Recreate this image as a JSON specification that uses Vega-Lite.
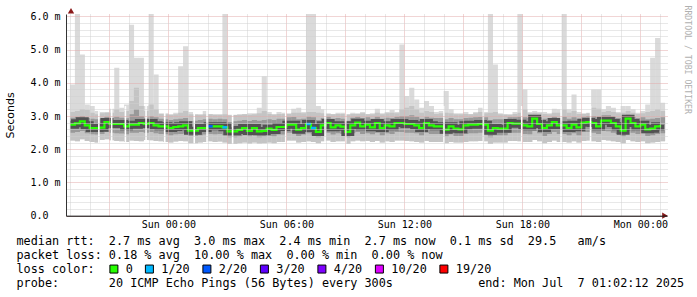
{
  "$schema": "https://vega.github.io/schema/vega-lite/v6.json",
  "width": 601,
  "height": 201.7,
  "autosize": {"type": "none"},
  "padding": {"left": 66, "top": 14, "right": 30, "bottom": 81.3},
  "background": "white",
  "config": {"view": {"stroke": null}, "axis": {"labelOverlap": false, "labelFlush": false}},
  "resolve": {"axis": {"y": "independent"}},
  "datasets": {
    "smoke": [
      {"t":"2025-07-05T19:00Z","lo":2.26,"q1":2.50,"md":2.74,"q3":2.95,"hi":3.12,"mx":3.95,"ls":"0"},
      {"t":"2025-07-05T19:15Z","lo":2.24,"q1":2.52,"md":2.78,"q3":2.98,"hi":3.15,"mx":6.1,"ls":"0"},
      {"t":"2025-07-05T19:30Z","lo":2.30,"q1":2.55,"md":2.84,"q3":3.00,"hi":3.20,"mx":4.85,"ls":"0"},
      {"t":"2025-07-05T19:45Z","lo":2.25,"q1":2.48,"md":2.72,"q3":2.94,"hi":3.18,"mx":3.35,"ls":"0"},
      {"t":"2025-07-05T20:00Z","lo":2.22,"q1":2.45,"md":2.64,"q3":2.92,"hi":3.10,"mx":3.30,"ls":"0"},
      {"t":"2025-07-05T20:15Z","lo":2.20,"q1":2.44,"md":2.64,"q3":2.90,"hi":3.05,"mx":3.15,"ls":"0"},
      {"t":"2025-07-05T20:30Z","lo":2.28,"q1":2.46,"md":2.65,"q3":2.92,"hi":3.08,"mx":3.12,"ls":"0"},
      {"t":"2025-07-05T20:45Z","lo":2.30,"q1":2.52,"md":2.82,"q3":2.98,"hi":3.10,"mx":3.12,"ls":"0"},
      {"t":"2025-07-05T21:00Z","lo":2.27,"q1":2.50,"md":2.76,"q3":2.95,"hi":3.10,"mx":3.22,"ls":"0"},
      {"t":"2025-07-05T21:15Z","lo":2.25,"q1":2.48,"md":2.76,"q3":2.98,"hi":3.20,"mx":4.45,"ls":"0"},
      {"t":"2025-07-05T21:30Z","lo":2.24,"q1":2.47,"md":2.76,"q3":2.95,"hi":3.12,"mx":3.25,"ls":"0"},
      {"t":"2025-07-05T21:45Z","lo":2.22,"q1":2.45,"md":2.69,"q3":2.93,"hi":3.15,"mx":3.35,"ls":"0"},
      {"t":"2025-07-05T22:00Z","lo":2.26,"q1":2.50,"md":2.74,"q3":3.05,"hi":3.45,"mx":5.75,"ls":"0"},
      {"t":"2025-07-05T22:15Z","lo":2.25,"q1":2.50,"md":2.74,"q3":3.20,"hi":3.85,"mx":4.75,"ls":"0"},
      {"t":"2025-07-05T22:30Z","lo":2.24,"q1":2.52,"md":2.79,"q3":3.00,"hi":3.30,"mx":4.75,"ls":"0"},
      {"t":"2025-07-05T22:45Z","lo":2.28,"q1":2.50,"md":2.76,"q3":2.95,"hi":3.15,"mx":3.30,"ls":"0"},
      {"t":"2025-07-05T23:00Z","lo":2.27,"q1":2.52,"md":2.79,"q3":3.00,"hi":3.35,"mx":6.1,"ls":"0"},
      {"t":"2025-07-05T23:15Z","lo":2.25,"q1":2.48,"md":2.72,"q3":2.96,"hi":3.20,"mx":4.25,"ls":"0"},
      {"t":"2025-07-05T23:30Z","lo":2.24,"q1":2.46,"md":2.69,"q3":2.92,"hi":3.06,"mx":3.08,"ls":"0"},
      {"t":"2025-07-05T23:45Z","lo":2.22,"q1":2.45,"md":2.69,"q3":2.90,"hi":3.05,"mx":3.08,"ls":"0"},
      {"t":"2025-07-06T00:00Z","lo":2.20,"q1":2.42,"md":2.64,"q3":2.88,"hi":3.04,"mx":3.05,"ls":"0"},
      {"t":"2025-07-06T00:15Z","lo":2.23,"q1":2.45,"md":2.67,"q3":2.90,"hi":3.05,"mx":3.10,"ls":"0"},
      {"t":"2025-07-06T00:30Z","lo":2.25,"q1":2.46,"md":2.69,"q3":2.92,"hi":3.10,"mx":4.50,"ls":"0"},
      {"t":"2025-07-06T00:45Z","lo":2.24,"q1":2.47,"md":2.72,"q3":2.94,"hi":3.15,"mx":5.10,"ls":"0"},
      {"t":"2025-07-06T01:00Z","lo":2.18,"q1":2.40,"md":2.56,"q3":2.85,"hi":3.05,"mx":3.12,"ls":"0"},
      {"t":"2025-07-06T01:15Z","lo":2.18,"q1":2.40,"md":2.56,"q3":2.86,"hi":3.04,"mx":3.06,"ls":"0"},
      {"t":"2025-07-06T01:30Z","lo":2.20,"q1":2.42,"md":2.64,"q3":2.88,"hi":3.04,"mx":3.05,"ls":"0"},
      {"t":"2025-07-06T01:45Z","lo":2.22,"q1":2.44,"md":2.64,"q3":2.90,"hi":3.05,"mx":3.15,"ls":"0"},
      {"t":"2025-07-06T02:00Z","lo":2.24,"q1":2.46,"md":2.69,"q3":2.92,"hi":3.05,"mx":3.06,"ls":"2/20"},
      {"t":"2025-07-06T02:15Z","lo":2.22,"q1":2.45,"md":2.69,"q3":2.90,"hi":3.04,"mx":3.05,"ls":"0"},
      {"t":"2025-07-06T02:30Z","lo":2.23,"q1":2.46,"md":2.69,"q3":2.92,"hi":3.04,"mx":3.05,"ls":"0"},
      {"t":"2025-07-06T02:45Z","lo":2.20,"q1":2.42,"md":2.66,"q3":2.90,"hi":3.05,"mx":6.1,"ls":"1/20"},
      {"t":"2025-07-06T03:00Z","lo":2.16,"q1":2.36,"md":2.54,"q3":2.82,"hi":3.02,"mx":3.04,"ls":"0"},
      {"t":"2025-07-06T03:15Z","lo":2.16,"q1":2.36,"md":2.54,"q3":2.84,"hi":3.03,"mx":3.04,"ls":"0"},
      {"t":"2025-07-06T03:30Z","lo":2.18,"q1":2.38,"md":2.58,"q3":2.86,"hi":3.04,"mx":3.05,"ls":"0"},
      {"t":"2025-07-06T03:45Z","lo":2.20,"q1":2.42,"md":2.64,"q3":2.88,"hi":3.05,"mx":3.06,"ls":"0"},
      {"t":"2025-07-06T04:00Z","lo":2.17,"q1":2.38,"md":2.55,"q3":2.85,"hi":3.04,"mx":3.08,"ls":"0"},
      {"t":"2025-07-06T04:15Z","lo":2.20,"q1":2.42,"md":2.64,"q3":2.88,"hi":3.05,"mx":3.08,"ls":"0"},
      {"t":"2025-07-06T04:30Z","lo":2.17,"q1":2.36,"md":2.54,"q3":2.86,"hi":3.08,"mx":3.25,"ls":"0"},
      {"t":"2025-07-06T04:45Z","lo":2.18,"q1":2.38,"md":2.55,"q3":2.88,"hi":3.15,"mx":4.20,"ls":"0"},
      {"t":"2025-07-06T05:00Z","lo":2.20,"q1":2.40,"md":2.62,"q3":2.90,"hi":3.06,"mx":3.12,"ls":"0"},
      {"t":"2025-07-06T05:15Z","lo":2.18,"q1":2.38,"md":2.58,"q3":2.88,"hi":3.04,"mx":3.06,"ls":"0"},
      {"t":"2025-07-06T05:30Z","lo":2.22,"q1":2.44,"md":2.67,"q3":2.92,"hi":3.06,"mx":3.12,"ls":"0"},
      {"t":"2025-07-06T05:45Z","lo":2.22,"q1":2.44,"md":2.67,"q3":2.92,"hi":3.06,"mx":3.10,"ls":"0"},
      {"t":"2025-07-06T06:00Z","lo":2.26,"q1":2.50,"md":2.74,"q3":2.96,"hi":3.06,"mx":3.08,"ls":"0"},
      {"t":"2025-07-06T06:15Z","lo":2.26,"q1":2.50,"md":2.74,"q3":2.97,"hi":3.10,"mx":3.22,"ls":"0"},
      {"t":"2025-07-06T06:30Z","lo":2.20,"q1":2.40,"md":2.59,"q3":2.90,"hi":3.10,"mx":3.25,"ls":"0"},
      {"t":"2025-07-06T06:45Z","lo":2.22,"q1":2.44,"md":2.64,"q3":2.92,"hi":3.08,"mx":3.12,"ls":"0"},
      {"t":"2025-07-06T07:00Z","lo":2.24,"q1":2.48,"md":2.76,"q3":2.98,"hi":3.12,"mx":6.1,"ls":"1/20"},
      {"t":"2025-07-06T07:15Z","lo":2.22,"q1":2.44,"md":2.64,"q3":2.96,"hi":3.12,"mx":6.1,"ls":"1/20"},
      {"t":"2025-07-06T07:30Z","lo":2.18,"q1":2.36,"md":2.52,"q3":2.88,"hi":3.10,"mx":3.30,"ls":"0"},
      {"t":"2025-07-06T07:45Z","lo":2.24,"q1":2.46,"md":2.72,"q3":2.94,"hi":3.08,"mx":3.20,"ls":"0"},
      {"t":"2025-07-06T08:00Z","lo":2.26,"q1":2.50,"md":2.79,"q3":2.98,"hi":3.06,"mx":3.08,"ls":"0"},
      {"t":"2025-07-06T08:15Z","lo":2.22,"q1":2.44,"md":2.66,"q3":2.92,"hi":3.05,"mx":3.06,"ls":"0"},
      {"t":"2025-07-06T08:30Z","lo":2.24,"q1":2.48,"md":2.72,"q3":2.94,"hi":3.06,"mx":3.10,"ls":"0"},
      {"t":"2025-07-06T08:45Z","lo":2.24,"q1":2.46,"md":2.68,"q3":2.92,"hi":3.06,"mx":3.10,"ls":"0"},
      {"t":"2025-07-06T09:00Z","lo":2.16,"q1":2.36,"md":2.52,"q3":2.86,"hi":3.04,"mx":3.06,"ls":"0"},
      {"t":"2025-07-06T09:15Z","lo":2.24,"q1":2.48,"md":2.72,"q3":2.95,"hi":3.06,"mx":3.10,"ls":"0"},
      {"t":"2025-07-06T09:30Z","lo":2.26,"q1":2.52,"md":2.80,"q3":2.98,"hi":3.06,"mx":3.08,"ls":"0"},
      {"t":"2025-07-06T09:45Z","lo":2.24,"q1":2.46,"md":2.69,"q3":2.94,"hi":3.08,"mx":3.12,"ls":"0"},
      {"t":"2025-07-06T10:00Z","lo":2.25,"q1":2.48,"md":2.74,"q3":2.96,"hi":3.05,"mx":3.06,"ls":"0"},
      {"t":"2025-07-06T10:15Z","lo":2.22,"q1":2.45,"md":2.66,"q3":2.92,"hi":3.05,"mx":3.08,"ls":"0"},
      {"t":"2025-07-06T10:30Z","lo":2.25,"q1":2.50,"md":2.79,"q3":2.98,"hi":3.10,"mx":3.22,"ls":"0"},
      {"t":"2025-07-06T10:45Z","lo":2.20,"q1":2.42,"md":2.64,"q3":2.92,"hi":3.05,"mx":3.08,"ls":"0"},
      {"t":"2025-07-06T11:00Z","lo":2.24,"q1":2.48,"md":2.72,"q3":2.95,"hi":3.08,"mx":3.12,"ls":"0"},
      {"t":"2025-07-06T11:15Z","lo":2.22,"q1":2.46,"md":2.69,"q3":2.94,"hi":3.10,"mx":3.18,"ls":"0"},
      {"t":"2025-07-06T11:30Z","lo":2.26,"q1":2.52,"md":2.79,"q3":2.98,"hi":3.08,"mx":3.12,"ls":"0"},
      {"t":"2025-07-06T11:45Z","lo":2.26,"q1":2.52,"md":2.79,"q3":3.00,"hi":3.20,"mx":5.15,"ls":"0"},
      {"t":"2025-07-06T12:00Z","lo":2.25,"q1":2.50,"md":2.76,"q3":3.00,"hi":3.25,"mx":3.60,"ls":"0"},
      {"t":"2025-07-06T12:15Z","lo":2.24,"q1":2.50,"md":2.76,"q3":3.02,"hi":3.30,"mx":3.85,"ls":"0"},
      {"t":"2025-07-06T12:30Z","lo":2.22,"q1":2.48,"md":2.72,"q3":2.98,"hi":3.20,"mx":3.50,"ls":"0"},
      {"t":"2025-07-06T12:45Z","lo":2.20,"q1":2.42,"md":2.64,"q3":2.92,"hi":3.10,"mx":3.25,"ls":"0"},
      {"t":"2025-07-06T13:00Z","lo":2.25,"q1":2.50,"md":2.79,"q3":2.98,"hi":3.15,"mx":3.45,"ls":"0"},
      {"t":"2025-07-06T13:15Z","lo":2.22,"q1":2.46,"md":2.72,"q3":2.95,"hi":3.12,"mx":3.30,"ls":"0"},
      {"t":"2025-07-06T13:30Z","lo":2.22,"q1":2.46,"md":2.69,"q3":2.94,"hi":3.06,"mx":3.12,"ls":"0"},
      {"t":"2025-07-06T13:45Z","lo":2.22,"q1":2.46,"md":2.69,"q3":2.94,"hi":3.08,"mx":3.15,"ls":"0"},
      {"t":"2025-07-06T14:00Z","lo":2.18,"q1":2.38,"md":2.59,"q3":2.90,"hi":3.10,"mx":3.75,"ls":"0"},
      {"t":"2025-07-06T14:15Z","lo":2.22,"q1":2.45,"md":2.69,"q3":2.94,"hi":3.08,"mx":3.20,"ls":"0"},
      {"t":"2025-07-06T14:30Z","lo":2.20,"q1":2.40,"md":2.62,"q3":2.90,"hi":3.05,"mx":3.08,"ls":"0"},
      {"t":"2025-07-06T14:45Z","lo":2.20,"q1":2.40,"md":2.60,"q3":2.90,"hi":3.05,"mx":3.08,"ls":"0"},
      {"t":"2025-07-06T15:00Z","lo":2.22,"q1":2.46,"md":2.72,"q3":2.94,"hi":3.06,"mx":3.12,"ls":"0"},
      {"t":"2025-07-06T15:15Z","lo":2.24,"q1":2.48,"md":2.74,"q3":2.95,"hi":3.05,"mx":3.06,"ls":"0"},
      {"t":"2025-07-06T15:30Z","lo":2.24,"q1":2.48,"md":2.74,"q3":2.96,"hi":3.08,"mx":3.12,"ls":"0"},
      {"t":"2025-07-06T15:45Z","lo":2.25,"q1":2.50,"md":2.76,"q3":2.97,"hi":3.12,"mx":3.25,"ls":"0"},
      {"t":"2025-07-06T16:00Z","lo":2.24,"q1":2.48,"md":2.74,"q3":2.96,"hi":3.08,"mx":3.12,"ls":"0"},
      {"t":"2025-07-06T16:15Z","lo":2.16,"q1":2.36,"md":2.56,"q3":2.88,"hi":3.10,"mx":6.1,"ls":"0"},
      {"t":"2025-07-06T16:30Z","lo":2.20,"q1":2.42,"md":2.64,"q3":2.90,"hi":3.12,"mx":4.55,"ls":"0"},
      {"t":"2025-07-06T16:45Z","lo":2.20,"q1":2.42,"md":2.62,"q3":2.90,"hi":3.05,"mx":3.08,"ls":"0"},
      {"t":"2025-07-06T17:00Z","lo":2.20,"q1":2.42,"md":2.62,"q3":2.90,"hi":3.04,"mx":3.06,"ls":"0"},
      {"t":"2025-07-06T17:15Z","lo":2.25,"q1":2.50,"md":2.79,"q3":2.96,"hi":3.04,"mx":3.05,"ls":"0"},
      {"t":"2025-07-06T17:30Z","lo":2.25,"q1":2.50,"md":2.77,"q3":2.96,"hi":3.06,"mx":3.12,"ls":"0"},
      {"t":"2025-07-06T17:45Z","lo":2.24,"q1":2.50,"md":2.77,"q3":2.98,"hi":3.10,"mx":6.1,"ls":"0"},
      {"t":"2025-07-06T18:00Z","lo":2.22,"q1":2.46,"md":2.72,"q3":2.96,"hi":3.20,"mx":3.80,"ls":"0"},
      {"t":"2025-07-06T18:15Z","lo":2.22,"q1":2.45,"md":2.69,"q3":2.94,"hi":3.08,"mx":3.12,"ls":"0"},
      {"t":"2025-07-06T18:30Z","lo":2.28,"q1":2.55,"md":2.92,"q3":3.02,"hi":3.10,"mx":3.15,"ls":"0"},
      {"t":"2025-07-06T18:45Z","lo":2.24,"q1":2.48,"md":2.76,"q3":2.96,"hi":3.08,"mx":3.12,"ls":"0"},
      {"t":"2025-07-06T19:00Z","lo":2.18,"q1":2.40,"md":2.64,"q3":2.92,"hi":3.06,"mx":3.12,"ls":"0"},
      {"t":"2025-07-06T19:15Z","lo":2.22,"q1":2.46,"md":2.72,"q3":2.94,"hi":3.05,"mx":3.08,"ls":"0"},
      {"t":"2025-07-06T19:30Z","lo":2.26,"q1":2.52,"md":2.82,"q3":2.98,"hi":3.10,"mx":3.22,"ls":"0"},
      {"t":"2025-07-06T19:45Z","lo":2.22,"q1":2.46,"md":2.72,"q3":2.94,"hi":3.10,"mx":3.20,"ls":"0"},
      {"t":"2025-07-06T20:00Z","lo":2.22,"q1":2.46,"md":2.72,"q3":2.98,"hi":3.20,"mx":6.1,"ls":"0"},
      {"t":"2025-07-06T20:15Z","lo":2.20,"q1":2.42,"md":2.64,"q3":2.92,"hi":3.10,"mx":3.20,"ls":"0"},
      {"t":"2025-07-06T20:30Z","lo":2.24,"q1":2.48,"md":2.74,"q3":2.96,"hi":3.15,"mx":3.65,"ls":"0"},
      {"t":"2025-07-06T20:45Z","lo":2.20,"q1":2.42,"md":2.66,"q3":2.92,"hi":3.06,"mx":3.12,"ls":"0"},
      {"t":"2025-07-06T21:00Z","lo":2.25,"q1":2.52,"md":2.80,"q3":2.98,"hi":3.06,"mx":3.08,"ls":"0"},
      {"t":"2025-07-06T21:15Z","lo":2.26,"q1":2.52,"md":2.82,"q3":3.00,"hi":3.08,"mx":3.10,"ls":"0"},
      {"t":"2025-07-06T21:30Z","lo":2.24,"q1":2.50,"md":2.79,"q3":3.00,"hi":3.25,"mx":3.80,"ls":"0"},
      {"t":"2025-07-06T21:45Z","lo":2.22,"q1":2.46,"md":2.69,"q3":2.96,"hi":3.22,"mx":3.80,"ls":"0"},
      {"t":"2025-07-06T22:00Z","lo":2.28,"q1":2.55,"md":2.86,"q3":3.02,"hi":3.12,"mx":3.20,"ls":"0"},
      {"t":"2025-07-06T22:15Z","lo":2.26,"q1":2.54,"md":2.86,"q3":3.02,"hi":3.15,"mx":3.30,"ls":"0"},
      {"t":"2025-07-06T22:30Z","lo":2.24,"q1":2.50,"md":2.79,"q3":2.98,"hi":3.12,"mx":3.25,"ls":"0"},
      {"t":"2025-07-06T22:45Z","lo":2.22,"q1":2.46,"md":2.69,"q3":2.94,"hi":3.08,"mx":3.12,"ls":"0"},
      {"t":"2025-07-06T23:00Z","lo":2.18,"q1":2.38,"md":2.56,"q3":2.90,"hi":3.10,"mx":3.30,"ls":"0"},
      {"t":"2025-07-06T23:15Z","lo":2.28,"q1":2.55,"md":2.92,"q3":3.04,"hi":3.15,"mx":3.30,"ls":"0"},
      {"t":"2025-07-06T23:30Z","lo":2.24,"q1":2.50,"md":2.79,"q3":2.98,"hi":3.10,"mx":3.20,"ls":"0"},
      {"t":"2025-07-06T23:45Z","lo":2.22,"q1":2.46,"md":2.69,"q3":2.94,"hi":3.06,"mx":3.10,"ls":"0"},
      {"t":"2025-07-07T00:00Z","lo":2.24,"q1":2.48,"md":2.74,"q3":2.96,"hi":3.08,"mx":3.15,"ls":"0"},
      {"t":"2025-07-07T00:15Z","lo":2.18,"q1":2.40,"md":2.60,"q3":2.90,"hi":3.12,"mx":3.35,"ls":"0"},
      {"t":"2025-07-07T00:30Z","lo":2.20,"q1":2.42,"md":2.62,"q3":2.92,"hi":3.15,"mx":4.75,"ls":"0"},
      {"t":"2025-07-07T00:45Z","lo":2.22,"q1":2.46,"md":2.69,"q3":2.94,"hi":3.20,"mx":5.35,"ls":"0"},
      {"t":"2025-07-07T01:00Z","lo":2.24,"q1":2.48,"md":2.74,"q3":2.96,"hi":3.15,"mx":3.40,"ls":"0"}
    ],
    "gaps": [
      {"t":"2025-07-05T20:28Z"},{"t":"2025-07-05T21:07Z"},{"t":"2025-07-05T21:49Z"},{"t":"2025-07-05T22:52Z"},
      {"t":"2025-07-05T23:49Z"},{"t":"2025-07-06T01:19Z"},{"t":"2025-07-06T01:58Z"},{"t":"2025-07-06T03:16Z"},
      {"t":"2025-07-06T05:58Z"},{"t":"2025-07-06T07:58Z"},{"t":"2025-07-06T09:01Z"},{"t":"2025-07-06T14:01Z"},
      {"t":"2025-07-06T16:01Z"},{"t":"2025-07-06T17:58Z"},{"t":"2025-07-06T19:58Z"},{"t":"2025-07-06T21:28Z"}
    ],
    "axisEnds": [
      {"t":"2025-07-05T19:03Z","v":6.17,"dir":"up"},
      {"t":"2025-07-07T01:15Z","v":0,"dir":"right"}
    ]
  },
  "data": {"name": "smoke"},
  "encoding": {
    "x": {
      "field": "t", "type": "temporal",
      "scale": {"type": "utc", "nice": false, "domain": [1751742180000, 1751850360000]},
      "axis": {
        "values": [1751742000000,1751745600000,1751749200000,1751752800000,1751756400000,1751760000000,1751763600000,1751767200000,1751770800000,1751774400000,1751778000000,1751781600000,1751785200000,1751788800000,1751792400000,1751796000000,1751799600000,1751803200000,1751806800000,1751810400000,1751814000000,1751817600000,1751821200000,1751824800000,1751828400000,1751832000000,1751835600000,1751839200000,1751842800000,1751846400000,1751850000000],
        "tickCount": 200,
        "grid": true,
        "gridColor": {"condition": {"test": "utchours(datum.value) % 3 === 0", "value": "#e3aaaa"}, "value": "#d0d0d0"},
        "gridDash": [1, 1],
        "gridOpacity": 1,
        "ticks": false, "tickSize": 0,
        "domainColor": "#000",
        "labelExpr": "utchours(datum.value) % 6 === 0 ? utcFormat(datum.value, '%a %H:%M') : ''",
        "labelFont": "DejaVu Sans Mono", "labelFontSize": 10, "labelColor": "#000", "labelPadding": 4,
        "labelOverlap": false, "labelFlush": false,
        "title": [
          "median\u00a0rtt:\u00a0\u00a02.7\u00a0ms\u00a0avg\u00a0\u00a03.0\u00a0ms\u00a0max\u00a0\u00a02.4\u00a0ms\u00a0min\u00a0\u00a02.7\u00a0ms\u00a0now\u00a0\u00a00.1\u00a0ms\u00a0sd\u00a0\u00a029.5\u00a0\u00a0\u00a0am/s",
          "packet\u00a0loss:\u00a00.18\u00a0%\u00a0avg\u00a0\u00a010.00\u00a0%\u00a0max\u00a0\u00a00.00\u00a0%\u00a0min\u00a0\u00a00.00\u00a0%\u00a0now",
          "loss\u00a0color:",
          "probe:\u00a0\u00a0\u00a0\u00a0\u00a0\u00a0\u00a020\u00a0ICMP\u00a0Echo\u00a0Pings\u00a0(56\u00a0Bytes)\u00a0every\u00a0300s\u00a0\u00a0\u00a0\u00a0\u00a0\u00a0\u00a0\u00a0\u00a0\u00a0\u00a0\u00a0end:\u00a0Mon\u00a0Jul\u00a0\u00a07\u00a001:02:12\u00a02025"
        ],
        "titleFont": "DejaVu Sans Mono", "titleFontSize": 11.8, "titleFontWeight": "normal", "titleColor": "#000",
        "titleAlign": "left", "titleAnchor": "start", "titleBaseline": "top",
        "titleX": -50, "titleY": 20, "titleLineHeight": 14,
        "zindex": 1
      }
    }
  },
  "layer": [
    {
      "mark": {"type": "bar", "color": "#dadada", "clip": true, "width": 5.1, "xOffset": 2.5},
      "encoding": {
        "y": {
          "field": "lo", "type": "quantitative",
          "scale": {"domain": [0, 6.07], "nice": false, "zero": false},
          "axis": {
            "values": [0,0.2,0.4,0.6,0.8,1,1.2,1.4,1.6,1.8,2,2.2,2.4,2.6,2.8,3,3.2,3.4,3.6,3.8,4,4.2,4.4,4.6,4.8,5,5.2,5.4,5.6,5.8,6],
            "tickCount": 200,
            "grid": true,
            "gridColor": {"condition": {"test": "abs(datum.value - round(datum.value)) < 0.01", "value": "#e3aaaa"}, "value": "#d0d0d0"},
            "gridDash": [1, 1],
            "gridOpacity": 1,
            "ticks": false, "tickSize": 0,
            "domainColor": "#333",
            "labelExpr": "abs(datum.value - round(datum.value)) > 0.01 ? '' : (datum.value == 0 ? '0.0' : format(datum.value, '.1f') + ' m')",
            "labelAlign": "left", "labelPadding": 36,
            "labelOverlap": false, "labelFlush": false,
            "labelFont": "DejaVu Sans Mono", "labelFontSize": 10, "labelColor": "#000",
            "title": "Seconds",
            "titleFont": "DejaVu Sans", "titleFontSize": 11, "titleFontWeight": "normal", "titleColor": "#000",
            "titleX": -56, "titleY": 100.85, "titleAngle": -90, "titleAlign": "center", "titleBaseline": "middle",
            "zindex": 1
          }
        },
        "y2": {"field": "mx"}
      }
    },
    {
      "mark": {"type": "bar", "color": "#c4c4c4", "clip": true, "width": 5.1, "xOffset": 2.5},
      "encoding": {
        "y": {"field": "lo", "type": "quantitative", "axis": null},
        "y2": {"field": "hi"}
      }
    },
    {
      "mark": {"type": "bar", "color": "#999999", "clip": true, "width": 5.1, "xOffset": 2.5},
      "encoding": {
        "y": {"field": "q1", "type": "quantitative", "axis": null},
        "y2": {"field": "q3"}
      }
    },
    {
      "mark": {"type": "line", "interpolate": "step-after", "color": "#525252", "strokeWidth": 8, "clip": true},
      "encoding": {"y": {"field": "md", "type": "quantitative", "axis": null}}
    },
    {
      "mark": {"type": "line", "interpolate": "step-after", "color": "#26ff00", "strokeWidth": 2.2, "clip": true},
      "encoding": {"y": {"field": "md", "type": "quantitative", "axis": null}}
    },
    {
      "transform": [{"filter": "datum.ls !== '0'"}],
      "mark": {"type": "tick", "orient": "horizontal", "thickness": 2.5, "size": 5, "xOffset": 2.5, "opacity": 1},
      "encoding": {
        "y": {"field": "md", "type": "quantitative", "axis": null},
        "color": {
          "field": "ls", "type": "nominal",
          "scale": {"domain": ["0", "1/20", "2/20", "3/20", "4/20", "10/20", "19/20"], "range": ["#26ff00", "#00b8ff", "#0059ff", "#5e00ff", "#7e00ff", "#dd00ff", "#ff0000"]},
          "legend": {
            "orient": "none", "legendX": 42, "legendY": 249, "direction": "horizontal",
            "title": null,
            "labelFont": "DejaVu Sans Mono", "labelFontSize": 11.8, "labelColor": "#000", "labelOffset": 6,
            "symbolType": "square", "symbolSize": 64, "symbolStrokeColor": "#000", "symbolStrokeWidth": 1, "symbolOpacity": 1,
            "columnPadding": 9.5, "padding": 0, "offset": 0
          }
        }
      }
    },
    {
      "data": {"name": "gaps"},
      "mark": {"type": "rule", "color": "white", "strokeWidth": 1.6},
      "encoding": {
        "y": {"datum": 2.1, "type": "quantitative", "axis": null},
        "y2": {"datum": 3.3}
      }
    },
    {
      "data": {"name": "axisEnds"},
      "mark": {"type": "point", "filled": true, "size": 40, "opacity": 1, "color": "#8b1a1a"},
      "encoding": {
        "y": {
          "field": "v", "type": "quantitative",
          "axis": {
            "orient": "right", "title": "RRDTOOL / TOBI OETIKER",
            "labels": false, "ticks": false, "domain": false, "grid": false, "tickCount": 0,
            "titleAngle": 90, "titleX": 19, "titleY": -9, "titleAlign": "left", "titleBaseline": "middle",
            "titleFont": "DejaVu Sans Mono", "titleFontSize": 8.2, "titleFontWeight": "normal", "titleColor": "#b0b0b0"
          }
        },
        "shape": {"field": "dir", "type": "nominal", "scale": {"domain": ["up", "right"], "range": ["triangle-up", "triangle-right"]}, "legend": null}
      }
    }
  ]
}
